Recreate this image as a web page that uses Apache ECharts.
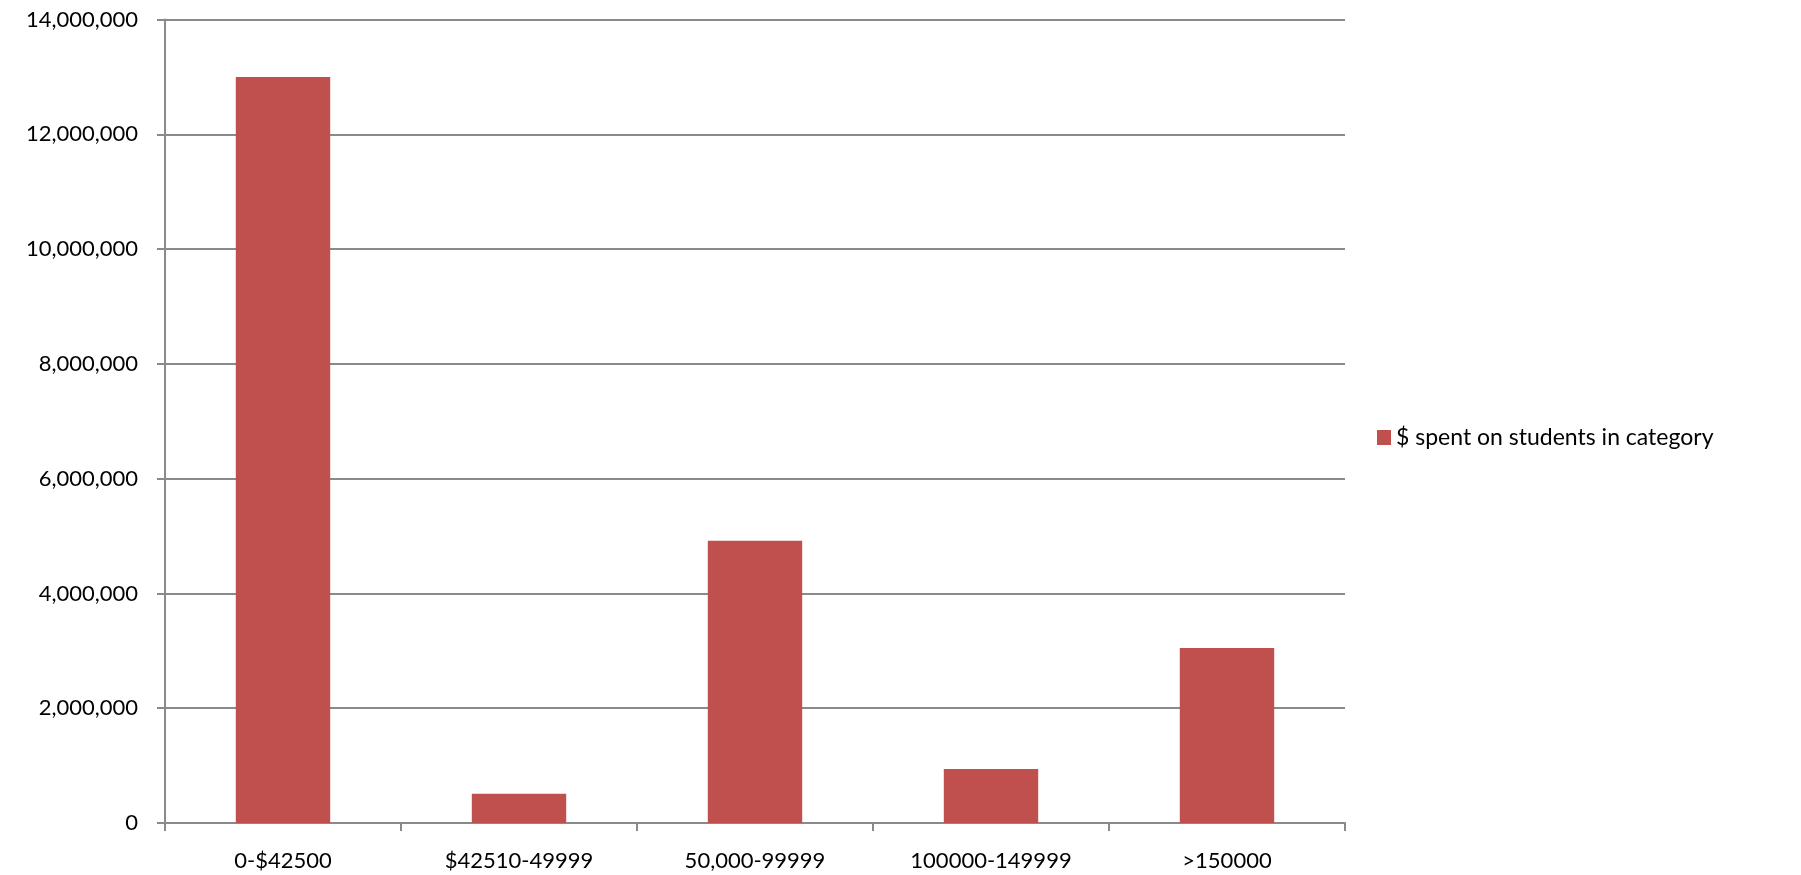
<!DOCTYPE html>
<html>
<head>
<meta charset="utf-8">
<script src="https://cdn.jsdelivr.net/npm/echarts@6/dist/echarts.min.js"></script>
<style>
  html, body { margin: 0; padding: 0; background: #fff; }
  #chart { width: 1801px; height: 875px; }
</style>
</head>
<body>
<div id="chart"></div>
<script>
const categories = ['0-$42500', '$42510-49999', '50,000-99999', '100000-149999', '>150000'];
const seriesName = '$ spent on students in category';
const spent = [13000000, 510000, 4920000, 940000, 3050000];

const chart = echarts.init(document.getElementById('chart'));
const font = 'Lato, "Liberation Sans", sans-serif';
const axisGray = '#8a8a8a';

chart.setOption({
  animation: false,
  textStyle: { fontFamily: font },
  grid: { left: 165, right: 456, top: 19.5, bottom: 52 },
  legend: {
    data: [seriesName],
    orient: 'vertical',
    left: 1372,
    top: 'middle',
    icon: 'rect',
    itemWidth: 14,
    itemHeight: 15,
    itemGap: 5,
    textStyle: { fontSize: 23, color: '#000', fontFamily: font }
  },
  xAxis: {
    type: 'category',
    data: categories,
    axisLine: { lineStyle: { color: axisGray, width: 2 } },
    axisTick: { show: true, length: 8, alignWithLabel: false, lineStyle: { color: axisGray, width: 2 } },
    axisLabel: { fontSize: 22, color: '#000', margin: 27, fontFamily: font }
  },
  yAxis: {
    type: 'value',
    min: 0,
    max: 14000000,
    interval: 2000000,
    axisLine: { show: true, lineStyle: { color: axisGray, width: 2 } },
    axisTick: { show: true, length: 8, lineStyle: { color: axisGray, width: 2 } },
    splitLine: { lineStyle: { color: axisGray, width: 2 } },
    axisLabel: {
      fontSize: 22,
      color: '#000',
      margin: 27,
      fontFamily: font,
      formatter: v => v.toLocaleString('en-US')
    }
  },
  series: [{
    name: seriesName,
    type: 'bar',
    data: spent,
    barWidth: '40%',
    itemStyle: { color: '#C0504D' }
  }]
});
</script>
</body>
</html>
